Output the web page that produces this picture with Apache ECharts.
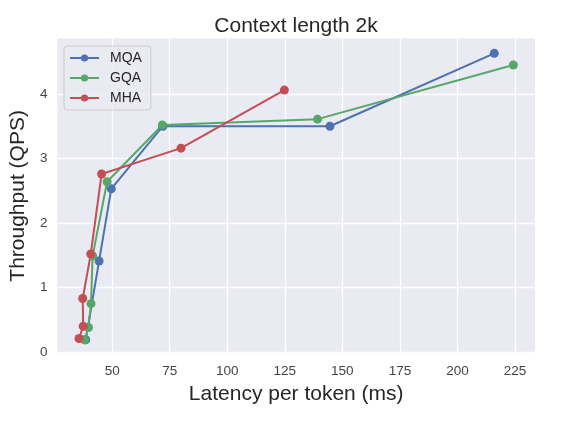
<!DOCTYPE html>
<html>
<head>
<meta charset="utf-8">
<script src="https://cdn.jsdelivr.net/npm/echarts@6/dist/echarts.min.js"></script>
<style>html,body{margin:0;padding:0;background:#fff;}#c{width:581px;height:423px;}</style>
</head>
<body>
<div id="c"></div>
<script>
const seriesNames = ['MQA', 'GQA', 'MHA'];
const mqaData = [[38.5,0.19],[44.3,1.41],[49.6,2.53],[72.0,3.50],[144.6,3.50],[216.0,4.63]];
const gqaData = [[38.0,0.19],[39.7,0.38],[40.8,0.75],[41.5,1.49],[47.8,2.64],[71.8,3.52],[139.2,3.61],[224.3,4.45]];
const mhaData = [[35.6,0.21],[37.4,0.40],[37.2,0.83],[40.7,1.52],[45.4,2.76],[79.9,3.16],[124.8,4.06]];
const xTicks = [50, 75, 100, 125, 150, 175, 200, 225];
const yTicks = [0, 1, 2, 3, 4];
const colors = ['#4C72B0', '#55A868', '#C44E52'];
const font = 'Liberation Sans, Arial, Helvetica, sans-serif';

const chart = echarts.init(document.getElementById('c'), null, {renderer: 'canvas'});
const mk = (name, data, color) => ({
  name, type: 'line', data, color,
  symbol: 'circle', symbolSize: 9,
  lineStyle: {width: 2, color}, itemStyle: {color},
  animation: false
});
chart.setOption({
  animation: false,
  backgroundColor: '#ffffff',
  title: {
    text: 'Context length 2k', left: 291, top: 11, textAlign: 'center',
    textStyle: {fontFamily: font, fontSize: 21, fontWeight: 'normal', color: '#262626'}
  },
  grid: {left: 56.7, right: 46, top: 38.5, bottom: 69.7, show: true, backgroundColor: '#EAEAF2', borderWidth: 0},
  legend: {
    orient: 'vertical', left: 64, top: 46,
    data: seriesNames,
    itemWidth: 29, itemHeight: 9, itemGap: 6,
    padding: [5, 9, 5, 5],
    backgroundColor: 'rgba(234,234,242,0.8)', borderColor: '#cccccc', borderWidth: 1, borderRadius: 3,
    textStyle: {fontFamily: font, fontSize: 14, color: '#262626', padding: [0, 0, 0, 6]}
  },
  xAxis: {
    type: 'value', min: 26.2, max: 233.7,
    name: 'Latency per token (ms)', nameLocation: 'middle', nameGap: 30,
    nameTextStyle: {fontFamily: font, fontSize: 21, color: '#262626'},
    axisLine: {show: false},
    axisTick: {show: false, customValues: xTicks},
    axisLabel: {fontFamily: font, fontSize: 13.5, color: '#444', margin: 11, customValues: xTicks},
    splitLine: {show: true, lineStyle: {color: '#ffffff', width: 1.3}}
  },
  yAxis: {
    type: 'value', min: -0.02, max: 4.86,
    name: 'Throughput (QPS)', nameLocation: 'middle', nameGap: 22.5,
    nameTextStyle: {fontFamily: font, fontSize: 21, color: '#262626'},
    axisLine: {show: false},
    axisTick: {show: false, customValues: yTicks},
    axisLabel: {fontFamily: font, fontSize: 13.5, color: '#444', margin: 10, customValues: yTicks, padding: [7, 0, 0, 0]},
    splitLine: {show: true, lineStyle: {color: '#ffffff', width: 1.3}}
  },
  series: [mk(seriesNames[0], mqaData, colors[0]), mk(seriesNames[1], gqaData, colors[1]), mk(seriesNames[2], mhaData, colors[2])]
});
</script>
</body>
</html>
